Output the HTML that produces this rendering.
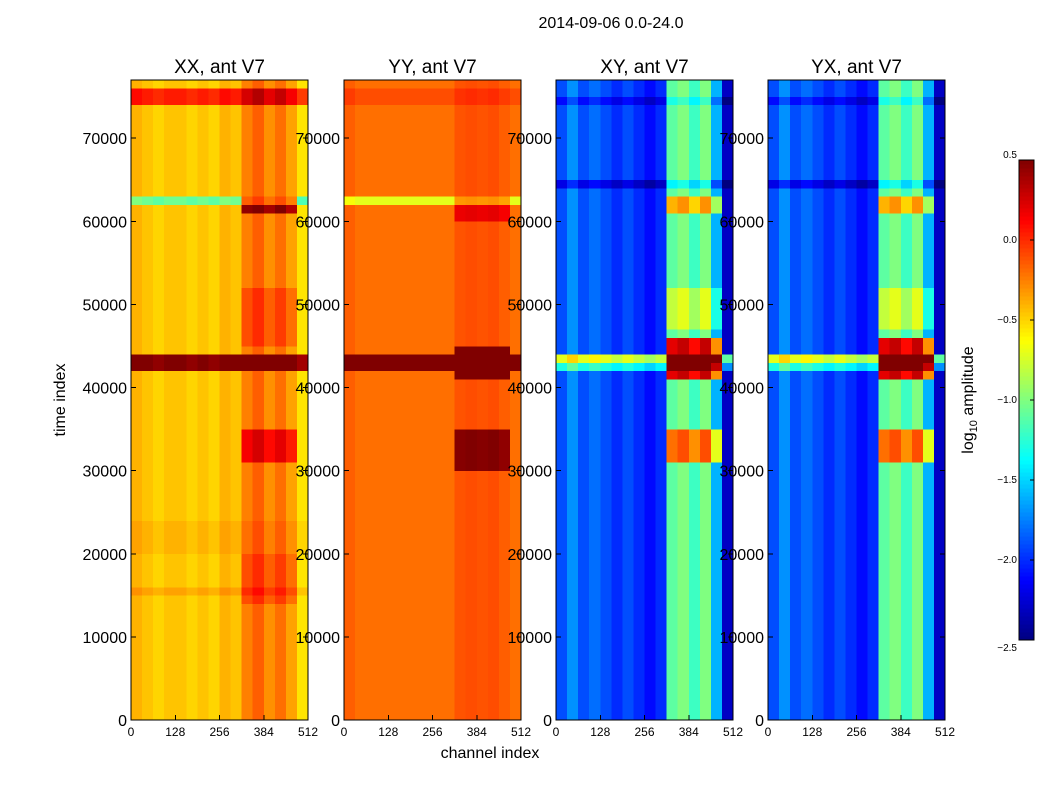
<!DOCTYPE html>
<html><head><meta charset="utf-8"><style>
body{margin:0;background:#fff;font-family:"Liberation Sans","DejaVu Sans",sans-serif}
svg text{font-family:"Liberation Sans","DejaVu Sans",sans-serif}
</style></head><body>
<svg id="fig" width="1050" height="800" xmlns="http://www.w3.org/2000/svg" shape-rendering="crispEdges">
<rect width="1050" height="800" fill="#fff"/>
<text x="611" y="28" font-size="16" text-anchor="middle">2014-09-06 0.0-24.0</text>
<text transform="translate(65,400) rotate(-90)" font-size="16" text-anchor="middle">time index</text>
<text x="490" y="758" font-size="16" text-anchor="middle">channel index</text>
<text transform="translate(973,400) rotate(-90)" font-size="16" text-anchor="middle">log<tspan font-size="11" dy="4">10</tspan><tspan dy="-4"> amplitude</tspan></text>
<g id="panels"></g>
<g id="cbar"></g>
</svg>
<script>
const panelTitles = ["XX, ant V7","YY, ant V7","XY, ant V7","YX, ant V7"];
const yTicks = [0,10000,20000,30000,40000,50000,60000,70000];
const xTicks = [0,128,256,384,512];
const cbTicks = [0.5,0.0,-0.5,-1.0,-1.5,-2.0,-2.5];
// column profiles: 16 segments of 32 channels (log10 amplitude)
const colXX = [-0.4,-0.45,-0.5,-0.45,-0.45,-0.5,-0.45,-0.5,-0.4,-0.45,-0.25,-0.15,-0.3,-0.2,-0.35,-0.55];
const colYY = [-0.15,-0.2,-0.2,-0.2,-0.2,-0.2,-0.2,-0.2,-0.2,-0.2,-0.12,-0.1,-0.12,-0.1,-0.15,-0.2];
const colXY = [-1.9,-1.7,-1.9,-1.8,-1.9,-2.0,-1.9,-2.0,-2.1,-2.0,-1.1,-1.0,-1.2,-1.0,-1.6,-2.3];
const colYX = [-1.9,-1.7,-1.9,-1.8,-1.9,-2.0,-1.9,-2.0,-2.1,-2.0,-1.1,-1.0,-1.2,-1.0,-1.6,-2.3];
// full-width row events [start,end,offset]
const rowXX = [[42000,44500,0.95],[74500,76000,0.5],[15000,16000,0.1],[20000,24000,0.05],[62500,63000,-0.6],[39000,39500,-0.6]];
const rowYY = [[42500,44000,0.8],[31800,32300,0.7],[74000,76000,0.1],[62500,63000,-0.5]];
const rowXY = [[43000,44000,1.2],[42500,43000,0.6],[64000,65000,-0.3],[74000,75000,-0.2]];
const rowYX = [[43000,44000,1.2],[42500,43000,0.6],[64000,65000,-0.3],[74000,75000,-0.2]];
// right-side (channels >= 320) row events
const rightXX = [[61000,63000,0.7],[31000,35000,0.4],[14000,20000,0.15],[45000,52000,0.15]];
const rightYY = [[60000,63000,0.3],[30000,35000,0.6],[41000,45500,0.8]];
const rightXY = [[31000,35000,0.9],[41000,46000,1.3],[61000,63000,0.7],[47000,52000,0.3]];
const rightYX = [[31000,35000,0.9],[41000,46000,1.3],[61000,63000,0.7],[47000,52000,0.3]];
const cols=[colXX,colYY,colXY,colYX], rows=[rowXX,rowYY,rowXY,rowYX], rights=[rightXX,rightYY,rightXY,rightYX];
const panelX=[131,344,556,768], PW=177, PT=80, PB=720, TMAX=77000;
function yScale(t){return PB-(t/TMAX)*(PB-PT);}
function xScale(c,i){return panelX[i]+c/512*PW;}
function jet(v){let t=(v+2.5)/3;t=Math.max(0,Math.min(1,t));
 const f=x=>Math.max(0,Math.min(1,x));
 const r=f(1.5-Math.abs(4*t-3)),g=f(1.5-Math.abs(4*t-2)),b=f(1.5-Math.abs(4*t-1));
 return `rgb(${Math.round(r*255)},${Math.round(g*255)},${Math.round(b*255)})`;}
const NS="http://www.w3.org/2000/svg";
function mk(tag,attrs,parent){const e=document.createElementNS(NS,tag);for(const k in attrs)e.setAttribute(k,attrs[k]);parent.appendChild(e);return e;}
const G=document.getElementById('panels');
for(let i=0;i<4;i++){
 const g=mk('g',{},G);
 
 
 for(let r=0;r<77;r++){
  const t0=r*1000,t1=t0+1000,tm=t0+500;
  let off=0;rows[i].forEach(e=>{if(tm>=e[0]&&tm<e[1])off+=e[2];});
  let offR=0;rights[i].forEach(e=>{if(tm>=e[0]&&tm<e[1])offR+=e[2];});
  for(let c=0;c<16;c++){
   const v=cols[i][c]+off+(c>=10&&c<15?offR:0);
   const x0=xScale(c*32,i),x1=xScale(c*32+32,i);
   const rc=mk('rect',{x:x0,y:yScale(t1),width:x1-x0+0.3,height:yScale(t0)-yScale(t1)+0.3,fill:jet(v)},g);
   
   
  }
 }
 mk('rect',{x:panelX[i],y:PT,width:PW,height:PB-PT,fill:'none',stroke:'#000','stroke-width':1},g);
 const tt=mk('text',{x:panelX[i]+PW/2,y:73,'font-size':19,'text-anchor':'middle'},g);tt.textContent=panelTitles[i];
 
 
 yTicks.forEach(v=>{const y=yScale(v);
  mk('line',{x1:panelX[i],x2:panelX[i]+5,y1:y,y2:y,stroke:'#000'},g);
  mk('line',{x1:panelX[i]+PW,x2:panelX[i]+PW-5,y1:y,y2:y,stroke:'#000'},g);
  const tx=mk('text',{x:panelX[i]-4,y:y+6,'font-size':16,'text-anchor':'end'},g);tx.textContent=v;
  
  });
 xTicks.forEach(v=>{const x=xScale(v,i);
  mk('line',{x1:x,x2:x,y1:PB,y2:PB-5,stroke:'#000'},g);
  const tx=mk('text',{x:x,y:736,'font-size':12,'text-anchor':'middle'},g);tx.textContent=v;
  
  });
}
const C=document.getElementById('cbar');const CX=1019,CW=15,CT=160,CB=640;
for(let k=0;k<120;k++){const v=-2.5+3*(k+0.5)/120;const y=CB-(k+1)*(CB-CT)/120;
 mk('rect',{x:CX,y:y,width:CW,height:(CB-CT)/120+0.5,fill:jet(v)},C);}
mk('rect',{x:CX,y:CT,width:CW,height:CB-CT,fill:'none',stroke:'#000'},C);
cbTicks.forEach(v=>{const y=CB-(v+2.5)/3*(CB-CT);
 mk('line',{x1:CX+CW,x2:CX+CW-4,y1:y,y2:y,stroke:'#000'},C);
 const tx=mk('text',{x:CX-2,y:y+(v==0.5?-2:(v==-2.5?11:3)),'font-size':10,'text-anchor':'end'},C);
 tx.textContent=(v<0?'\u2212':'')+Math.abs(v).toFixed(1);
 
 });
</script>
</body></html>
